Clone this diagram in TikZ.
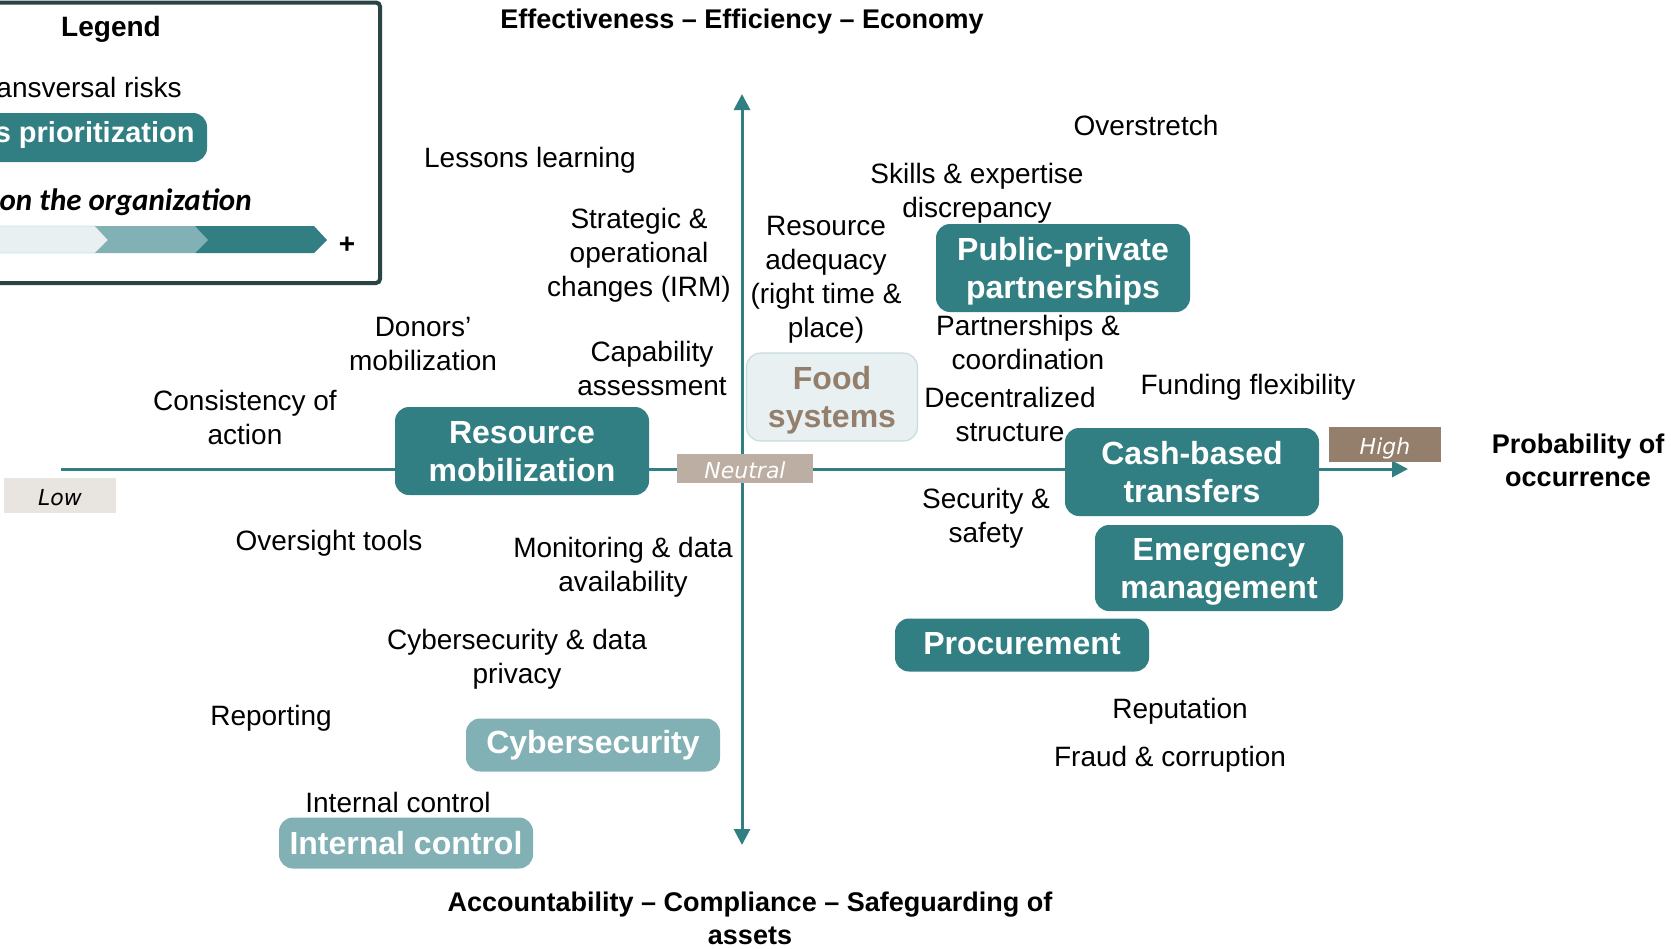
\documentclass[tikz,border=0pt]{standalone}
\usepackage{fontspec}
\setmainfont{Liberation Sans}
\newfontfamily\calibri{Carlito}
\newfontfamily\verdana{DejaVu Sans}
\usetikzlibrary{arrows.meta}
\definecolor{mteal}{HTML}{317F83}
\definecolor{lteal}{HTML}{81B1B4}
\definecolor{pteal}{HTML}{E8F0F1}
\definecolor{mtaupe}{HTML}{937F6B}
\definecolor{ltaupe}{HTML}{BCAEA2}
\definecolor{pgrey}{HTML}{E8E5E1}
\definecolor{mframe}{HTML}{2A4446}
\tikzset{risk/.style = {fill=mteal, rounded corners=7pt, text=white, align=center,
                        font=\fontsize{16}{19}\selectfont\bfseries, inner sep=0,
                        text depth=0pt, minimum width=127pt, minimum height=44pt}}
\tikzset{lrisk/.style = {risk, fill=lteal, text depth=, minimum height=26.5pt}}
\tikzset{risktext/.style = {align=center, font=\fontsize{14}{17}\selectfont}}
\tikzset{axistitle/.style = {align=center, font=\fontsize{13.5}{16.5}\selectfont\bfseries}}
\tikzset{scalebox/.style = {inner sep=0, minimum width=56pt, minimum height=17.5pt,
                            text height=1em, text depth=0pt,
                            font=\verdana\itshape\fontsize{11}{12}\selectfont}}
\tikzset{axis/.style = {draw=mteal, line width=1.5pt}}

\begin{document}
\begin{tikzpicture}[x=0.5pt, y=-0.5pt]
    \useasboundingbox (0, 0) rectangle (1671, 948);
    \clip (0, 0) rectangle (1671, 948);

    % legend
    \draw [mframe, line width=2pt, rounded corners=2pt] (-20, 2.5) rectangle (380, 283);
    \node [font=\fontsize{14}{17}\selectfont\bfseries] (legtitle) at (111, 29) {Legend};
    \node [risktext, anchor=east, inner sep=0] (legtrans) at (182, 87) {Transversal risks};
    \fill [mteal, rounded corners=7pt] (-30, 113) rectangle (207, 162);
    \node [anchor=east, inner sep=0, text=white, font=\fontsize{14.5}{17}\selectfont\bfseries] (legprio) at (195, 135) {Risk areas prioritization};
    \node [anchor=east, inner sep=0, font=\calibri\fontsize{15.5}{18}\selectfont\bfseries\itshape] (legimpact) at (252, 202) {Impact on the organization};
    \filldraw [fill=pteal, draw=lteal!40, line width=0.4pt] (-30, 226) -- (95, 226) -- (108, 240) -- (95, 253) -- (-30, 253) -- cycle;
    \fill [lteal] (95, 226) -- (195, 226) -- (208, 240) -- (195, 253) -- (95, 253) -- (108, 240) -- cycle;
    \fill [mteal] (195, 226) -- (314, 226) -- (327, 240) -- (314, 253) -- (195, 253) -- (208, 240) -- cycle;
    \node [font=\fontsize{14}{17}\selectfont\bfseries] (legplus) at (347, 245) {+};

    % axes
    \coordinate (xlo) at (61, 469);
    \coordinate (xhi) at (1408, 469);
    \coordinate (ytop) at (742, 94);
    \coordinate (ybot) at (742, 845);
    \draw [axis, -{Triangle[length=8pt, width=8pt]}] (xlo) -- (xhi);
    \draw [axis, {Triangle[length=8pt, width=8pt]}-{Triangle[length=8pt, width=8pt]}] (ybot) -- (ytop);

    \node [scalebox, fill=pgrey] (low) at (60, 495) {Low};
    \node [scalebox, fill=ltaupe, text=white, minimum width=68pt, minimum height=14.5pt] (neutral) at (745, 468) {Neutral};
    \node [scalebox, fill=mtaupe, text=white] (high) at (1385, 444) {High};

    \node [axistitle] (topaxis) at (742, 22) {Effectiveness -- Efficiency -- Economy};
    \node [axistitle] (botaxis) at (750, 918) {Accountability -- Compliance -- Safeguarding of\\assets};
    \node [axistitle] (rightaxis) at (1578, 460) {Probability of\\occurrence};

    % risks
    \node [risktext] (lessons) at (530, 160) {Lessons learning};
    \node [risktext] (overstretch) at (1146, 125) {Overstretch};
    \node [risktext] (skills) at (977, 193) {Skills \& expertise\\discrepancy};
    \node [risktext] (strategic) at (639, 255) {Strategic \&\\operational\\changes (IRM)};
    \node [risktext] (adequacy) at (826, 280) {Resource\\adequacy\\(right time \&\\place)};
    \node [risktext] (donors) at (423, 344) {Donors’\\mobilization};
    \node [risktext] (capability) at (652, 368) {Capability\\assessment};
    \node [risktext] (partnerships) at (1028, 342) {Partnerships \&\\coordination};
    \node [risktext] (funding) at (1248, 387) {Funding flexibility};
    \node [risktext] (consistency) at (245, 417) {Consistency of\\action};
    \node [risktext] (decentral) at (1010, 414) {Decentralized\\structure};
    \node [risktext] (security) at (986, 518) {Security \&\\safety};
    \node [risktext] (oversight) at (329, 543) {Oversight tools};
    \node [risktext] (monitoring) at (623, 567) {Monitoring \& data\\availability};
    \node [risktext] (cyberdata) at (517, 659) {Cybersecurity \& data\\privacy};
    \node [risktext] (reporting) at (271, 718) {Reporting};
    \node [risktext] (intcontrol) at (398, 802) {Internal control};
    \node [risktext] (reputation) at (1180, 711) {Reputation};
    \node [risktext] (fraud) at (1170, 759) {Fraud \& corruption};

    % priority areas
    \node [risk] (resmob) at (522, 451) {Resource\\mobilization};
    \node [risk] (ppp) at (1063, 268) {Public-private\\partnerships};
    \node [risk] (cbt) at (1192, 472) {Cash-based\\transfers};
    \node [risk, minimum width=124pt, minimum height=43pt] (emergency) at (1219, 568) {Emergency\\management};
    \node [risk, text depth=2pt, minimum height=26.5pt] (procurement) at (1022, 645) {Procurement};
    \node [risk, fill=pteal, draw=lteal!45, line width=0.6pt, text=mtaupe, minimum width=85.5pt] (food) at (832, 397) {Food\\systems};
    \node [lrisk] (cyber) at (593, 745) {Cybersecurity};
    \node [lrisk, minimum height=25.5pt] (intbox) at (406, 843) {Internal control};
\end{tikzpicture}
\end{document}
